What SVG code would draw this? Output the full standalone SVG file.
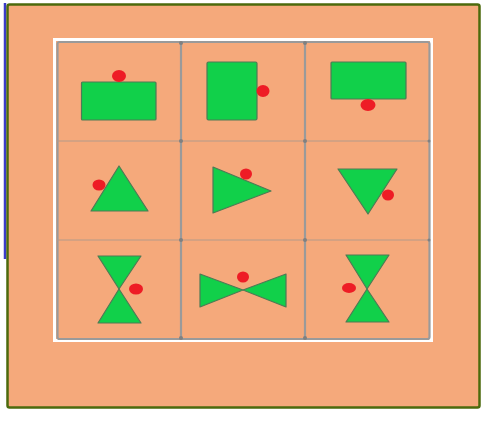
<svg xmlns="http://www.w3.org/2000/svg" width="485" height="432" viewBox="0 0 485 432">
<style>
.shape{fill:#11D04A;stroke:#4E7A55;stroke-width:1.2;stroke-linejoin:round}
.dot{fill:#EE1C25}
.vline{stroke:#9A9A9A;stroke-width:2.2}
.hline{stroke:#B39A8A;stroke-width:1}
.knot{fill:#808080}
</style>
<rect x="0" y="0" width="485" height="432" fill="#FFFFFF"/>
<line x1="5" y1="3" x2="5" y2="259" stroke="#3B3BC8" stroke-width="2.5"/>
<rect x="7.5" y="4.5" width="472" height="403" rx="2" fill="#F5A97B" stroke="#4C6A0C" stroke-width="2.5"/>
<g id="grid">
<rect x="54.5" y="39.5" width="377" height="301" fill="none" stroke="#FFFFFF" stroke-width="3"/>
<rect x="57.5" y="42" width="372" height="297" rx="2" fill="none" stroke="#9A9A9A" stroke-width="2.2"/>
<line class="vline" x1="181" y1="42" x2="181" y2="339"/>
<line class="vline" x1="305" y1="42" x2="305" y2="339"/>
<line class="hline" x1="57" y1="141" x2="430" y2="141"/>
<line class="hline" x1="57" y1="240" x2="430" y2="240"/>
<circle class="knot" cx="181" cy="43" r="2"/>
<circle class="knot" cx="305" cy="43" r="2"/>
<circle class="knot" cx="181" cy="141" r="2"/>
<circle class="knot" cx="305" cy="141" r="2"/>
<circle class="knot" cx="181" cy="240" r="2"/>
<circle class="knot" cx="305" cy="240" r="2"/>
<circle class="knot" cx="181" cy="338" r="2"/>
<circle class="knot" cx="305" cy="338" r="2"/>
<circle class="knot" cx="429" cy="141" r="1.5"/>
<circle class="knot" cx="429" cy="240" r="1.5"/>
</g>
<g id="cell-1-1">
<rect class="shape" x="81.5" y="82" width="74.5" height="38" rx="1"/>
<ellipse class="dot" cx="119" cy="76" rx="7" ry="6"/>
</g>
<g id="cell-1-2">
<rect class="shape" x="207" y="62" width="50" height="58" rx="1.5"/>
<ellipse class="dot" cx="263" cy="91" rx="6.5" ry="6"/>
</g>
<g id="cell-1-3">
<rect class="shape" x="331" y="62" width="75" height="37" rx="1"/>
<ellipse class="dot" cx="368" cy="105" rx="7.5" ry="6"/>
</g>
<g id="cell-2-1">
<polygon class="shape" points="119,166 148,211 91,211"/>
<ellipse class="dot" cx="99" cy="185" rx="6.5" ry="5.5"/>
</g>
<g id="cell-2-2">
<polygon class="shape" points="213,167 271,191 213,213"/>
<ellipse class="dot" cx="246" cy="174" rx="6" ry="5.5"/>
</g>
<g id="cell-2-3">
<polygon class="shape" points="338,169 397,169 368,214"/>
<ellipse class="dot" cx="388" cy="195" rx="6" ry="5.5"/>
</g>
<g id="cell-3-1">
<polygon class="shape" points="98,256 141,256 119,289"/>
<polygon class="shape" points="119,289 141,323 98,323"/>
<ellipse class="dot" cx="136" cy="289" rx="7" ry="5.5"/>
</g>
<g id="cell-3-2">
<polygon class="shape" points="200,274 243,290 200,307"/>
<polygon class="shape" points="286,274 286,307 243,290"/>
<ellipse class="dot" cx="243" cy="277" rx="6" ry="5.5"/>
</g>
<g id="cell-3-3">
<polygon class="shape" points="346,255 389,255 367,289"/>
<polygon class="shape" points="367,289 389,322 346,322"/>
<ellipse class="dot" cx="349" cy="288" rx="7" ry="5"/>
</g>
</svg>
